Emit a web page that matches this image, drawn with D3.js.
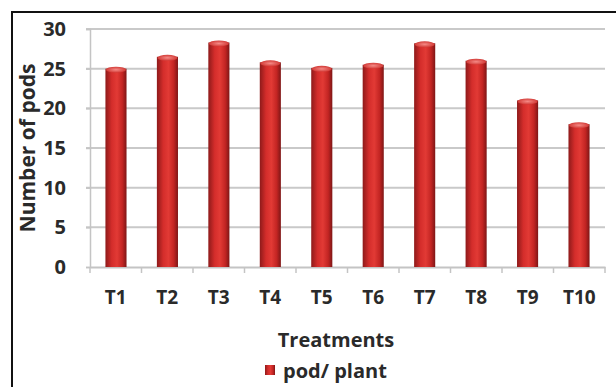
<!DOCTYPE html>
<html>
<head>
<meta charset="utf-8">
<script src="https://cdn.jsdelivr.net/npm/d3@7"></script>
<style>
  html, body { margin: 0; padding: 0; background: #fff; }
  svg { display: block; }
</style>
</head>
<body>
<script>
// Pods per plant for each treatment
const categories = ["T1", "T2", "T3", "T4", "T5", "T6", "T7", "T8", "T9", "T10"];
const podsPerPlant = [25.0, 26.5, 28.3, 25.8, 25.1, 25.5, 28.2, 26.0, 21.0, 18.0];
const yTicks = [0, 5, 10, 15, 20, 25, 30];
const seriesName = "pod/ plant";

const W = 616, H = 387;
const margin = { left: 90, right: 11, top: 29, bottom: 120 };
const font = "'Open Sans', Lato, sans-serif";
const ink = "#2a2a2a";

const svg = d3.select("body").append("svg")
  .attr("width", W).attr("height", H);

// outer frame
svg.append("rect")
  .attr("x", 12).attr("y", 12)
  .attr("width", W + 20).attr("height", H + 20)
  .attr("fill", "none").attr("stroke", "#111").attr("stroke-width", 2);

const x = d3.scaleBand().domain(categories)
  .range([margin.left, W - margin.right]).paddingInner(0.59).paddingOuter(0.3);
const xOuter = d3.scaleBand().domain(categories)
  .range([margin.left, W - margin.right]).padding(0);
const y = d3.scaleLinear().domain([0, 30]).range([H - margin.bottom, margin.top]);

// bar shading
const defs = svg.append("defs");
const grad = defs.append("linearGradient").attr("id", "barGrad")
  .attr("x1", "0%").attr("x2", "100%").attr("y1", "0%").attr("y2", "0%");
[[0, "#8e1a1a"], [0.3, "#d42d2b"], [0.55, "#e23a35"], [0.8, "#c32523"], [1, "#7e1616"]]
  .forEach(([o, c]) => grad.append("stop").attr("offset", o).attr("stop-color", c));
const capGrad = defs.append("radialGradient").attr("id", "capGrad");
capGrad.append("stop").attr("offset", 0).attr("stop-color", "#f58a86");
capGrad.append("stop").attr("offset", 1).attr("stop-color", "#d23a36");

// gridlines
svg.append("g").selectAll("line").data(yTicks.filter(d => d > 0)).join("line")
  .attr("x1", margin.left - 4).attr("x2", W - margin.right)
  .attr("y1", d => y(d)).attr("y2", d => y(d))
  .attr("stroke", "#c9c9c9").attr("stroke-width", 2);

// y axis
const yAxis = svg.append("g").attr("transform", `translate(${margin.left},0)`)
  .call(d3.axisLeft(y).tickValues(yTicks).tickSize(4).tickPadding(20));
yAxis.select(".domain").attr("stroke", "#c4c4c4").attr("stroke-width", 1.5);
yAxis.selectAll(".tick line").attr("stroke", "#c4c4c4").attr("stroke-width", 1.5);
yAxis.selectAll("text").attr("font-family", font).attr("font-weight", 700)
  .attr("font-size", 20).attr("fill", ink);

// x axis
const xAxis = svg.append("g").attr("transform", `translate(0,${y(0)})`)
  .call(d3.axisBottom(xOuter).tickSize(0).tickPadding(24));
xAxis.select(".domain").attr("stroke", "#c4c4c4").attr("stroke-width", 2);
xAxis.selectAll("text").attr("font-family", font).attr("font-weight", 700)
  .attr("font-size", 19).attr("fill", ink);
svg.append("g").selectAll("line").data(categories.concat(["end"])).join("line")
  .attr("x1", (d, i) => margin.left + i * xOuter.step())
  .attr("x2", (d, i) => margin.left + i * xOuter.step())
  .attr("y1", y(0)).attr("y2", y(0) + 6)
  .attr("stroke", "#c4c4c4").attr("stroke-width", 1.5);

// bars
const bars = svg.append("g").selectAll("g").data(categories).join("g");
bars.append("rect")
  .attr("x", d => x(d)).attr("width", x.bandwidth())
  .attr("y", (d, i) => y(podsPerPlant[i])).attr("height", (d, i) => y(0) - y(podsPerPlant[i]))
  .attr("fill", "url(#barGrad)");
bars.append("ellipse")
  .attr("cx", d => x(d) + x.bandwidth() / 2)
  .attr("cy", (d, i) => y(podsPerPlant[i]) + 1)
  .attr("rx", x.bandwidth() / 2 - 0.5).attr("ry", 3)
  .attr("fill", "url(#capGrad)");

// axis titles
svg.append("text")
  .attr("transform", `translate(35,${(y(0) + y(30)) / 2}) rotate(-90)`)
  .attr("text-anchor", "middle")
  .attr("font-family", font).attr("font-weight", 700).attr("font-size", 21)
  .attr("fill", ink).text("Number of pods");
svg.append("text")
  .attr("x", 336).attr("y", 347).attr("text-anchor", "middle")
  .attr("font-family", font).attr("font-weight", 700).attr("font-size", 20)
  .attr("fill", ink).text("Treatments");

// legend
svg.append("rect").attr("x", 265).attr("y", 365).attr("width", 10).attr("height", 10)
  .attr("fill", "url(#barGrad)");
svg.append("text")
  .attr("x", 283).attr("y", 378)
  .attr("font-family", font).attr("font-weight", 700).attr("font-size", 20)
  .attr("fill", ink).text(seriesName);
</script>
</body>
</html>
